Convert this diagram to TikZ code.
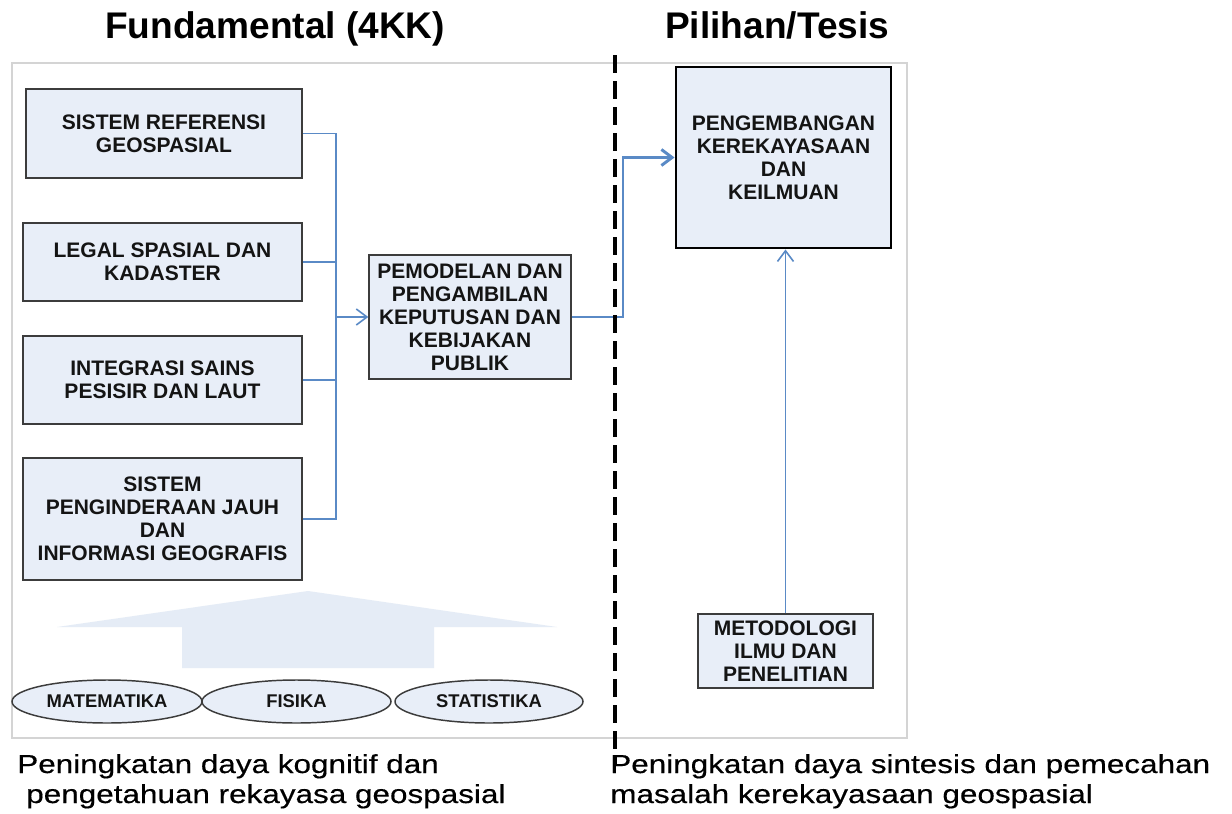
\documentclass[tikz,border=0pt]{standalone}
\usepackage{fontspec}
\setmainfont{Liberation Sans}
\newfontfamily\widefont[FakeStretch=1.21,FakeBold=0.4]{Liberation Sans}
\usetikzlibrary{shapes.geometric,arrows.meta}
\definecolor{boxfill}{HTML}{E8EEF8}
\definecolor{boxline}{HTML}{3C3C3C}
\definecolor{conn}{HTML}{5A8AC6}
\definecolor{arrowfill}{HTML}{E5ECF6}
\definecolor{framec}{HTML}{D4D4D4}
\definecolor{txt}{HTML}{141414}
\tikzset{
  box/.style={draw=boxline, line width=1.1pt, fill=boxfill, rectangle, inner sep=0pt,
    align=center, text=txt, font=\fontsize{15.75pt}{17.25pt}\selectfont\bfseries},
  bigbox/.style={box, draw=black, line width=2.2pt},
  oval/.style={draw=boxline, line width=1.1pt, fill=boxfill, ellipse, inner sep=0pt,
    text=txt, font=\fontsize{13.8pt}{15pt}\selectfont\bfseries},
  conline/.style={draw=conn, line width=1.2pt},
  conthick/.style={draw=conn, line width=2.2pt},
  tip/.style={-{Straight Barb[length=8pt,width=12pt]}},
  title/.style={anchor=base west, inner sep=0pt, text=black, font=\fontsize{27.8pt}{30pt}\selectfont\bfseries},
  foot/.style={anchor=base west, inner sep=0pt, text=black, font=\fontsize{19.5pt}{22pt}\widefont},
}
\begin{document}
\begin{tikzpicture}[x=0.75pt, y=-0.75pt]
\useasboundingbox (0,0) rectangle (1232,814);
\fill[white] (0,0) rectangle (1232,814);
% frame
\draw[framec, line width=0.9pt] (12,63) rectangle (907,738);
% titles
\node[title] (t1) at (105,38) {Fundamental (4KK)};
\node[title] (t2) at (665,38) {Pilihan/Tesis};
% big arrow
\fill[arrowfill] (57,627) -- (308,591) -- (557,627) -- (434,627) -- (434,668) -- (182,668) -- (182,627) -- cycle;
% left boxes
\node[box, minimum width=207pt, minimum height=66.75pt] (b1) at (164,133.5) {SISTEM REFERENSI\\GEOSPASIAL};
\node[box, minimum width=209.25pt, minimum height=58.5pt] (b2) at (162.5,262) {LEGAL SPASIAL DAN\\KADASTER};
\node[box, minimum width=209.25pt, minimum height=66pt] (b3) at (162.5,380) {INTEGRASI SAINS\\PESISIR DAN LAUT};
\node[box, minimum width=209.25pt, minimum height=91.5pt] (b4) at (162.5,519) {SISTEM\\PENGINDERAAN JAUH\\DAN\\INFORMASI GEOGRAFIS};
\node[box, minimum width=151.5pt, minimum height=93pt] (pm) at (470,317) {PEMODELAN DAN\\PENGAMBILAN\\KEPUTUSAN DAN\\KEBIJAKAN\\PUBLIK};
\node[bigbox, minimum width=161.25pt, minimum height=135.75pt] (pg) at (783.5,157.5) {PENGEMBANGAN\\KEREKAYASAAN\\DAN\\KEILMUAN};
\node[box, minimum width=131.25pt, minimum height=55.5pt] (mt) at (785.5,651) {METODOLOGI\\ILMU DAN\\PENELITIAN};
% ellipses
\node[oval, minimum width=142.5pt, minimum height=32.25pt] (e1) at (107,701.5) {MATEMATIKA};
\node[oval, minimum width=141.75pt, minimum height=32.25pt] (e2) at (296.5,701.5) {FISIKA};
\node[oval, minimum width=141pt, minimum height=32.25pt] (e3) at (489,701.5) {STATISTIKA};
% connectors
\coordinate (j) at (336,317);
\draw[conline] (b1.east) -| (j);
\draw[conline] (b4.east) -| (j);
\draw[conline] (b2.east) -- (b2.east -| j);
\draw[conline] (b3.east) -- (b3.east -| j);
\draw[conline, tip] (j) -- (pm.west);
\coordinate (k) at (623,317);
\draw[conthick, tip] (pm.east) -- (k) |- (pg.west);
\draw[conline, tip] (mt.north) -- (mt.north |- pg.south);
% dashed divider
\coordinate (d1) at (615,55);
\coordinate (d2) at (615,765);
\draw[black, line width=3pt, dash pattern=on 13.5pt off 6pt] (d1) -- (d2);
% footers
\node[foot] (f1) at (17,773) {Peningkatan daya kognitif dan};
\node[foot] (f2) at (26,803) {pengetahuan rekayasa geospasial};
\node[foot] (f3) at (610,773) {Peningkatan daya sintesis dan pemecahan};
\node[foot] (f4) at (610,803) {masalah kerekayasaan geospasial};
\end{tikzpicture}
\end{document}
